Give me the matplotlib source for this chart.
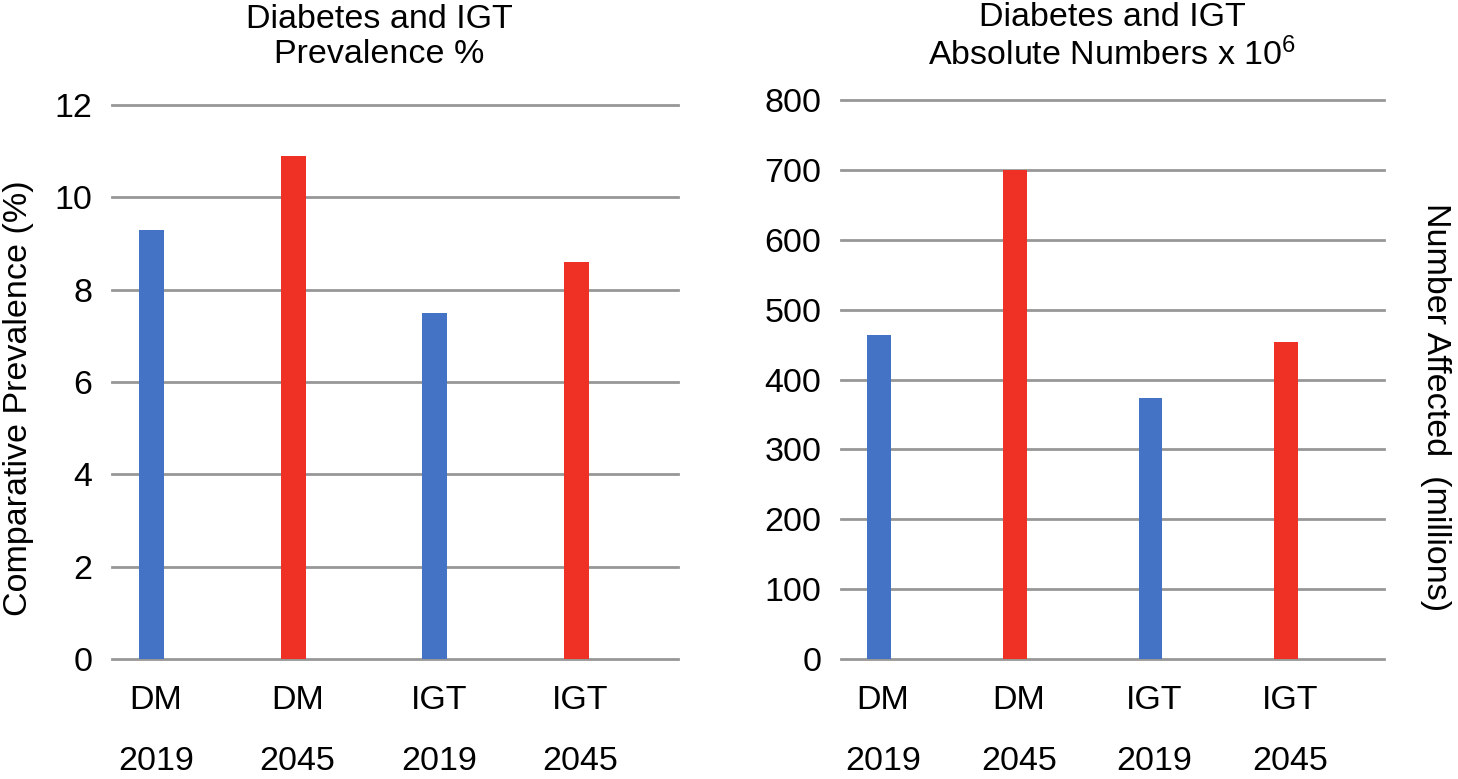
import matplotlib
matplotlib.use("Agg")
import matplotlib.pyplot as plt

plt.rcParams['font.family'] = ['Liberation Sans', 'DejaVu Sans']
plt.rcParams['mathtext.default'] = 'regular'

# -----------------------------------------------------------
# DATA
# -----------------------------------------------------------
groups = ["DM", "DM", "IGT", "IGT"]
years = ["2019", "2045", "2019", "2045"]
prevalence = [9.3, 10.9, 7.5, 8.6]
numbers = [463, 700, 374, 454]
bar_colors = ["#4472C4", "#EE3124", "#4472C4", "#EE3124"]

prev_ticks = [0, 2, 4, 6, 8, 10, 12]
num_ticks = [0, 100, 200, 300, 400, 500, 600, 700, 800]

GRID = "#979797"
FS = 24.5

fig = plt.figure(figsize=(14.58, 7.79), dpi=100)
ax1 = fig.add_axes([112 / 1458, 1 - 659 / 779, (678 - 112) / 1458, (659 - 105) / 779])
ax2 = fig.add_axes([841 / 1458, 1 - 659 / 779, (1384 - 841) / 1458, (659 - 100) / 779])


def draw_panel(ax, values, ticks):
    pos = [i - 0.22 for i in range(len(values))]
    ax.bar(pos, values, width=0.175, color=bar_colors, zorder=3)
    for t in ticks:
        ax.axhline(t, color=GRID, lw=2.0, zorder=1, clip_on=False)
    ax.set_xlim(-0.5, len(values) - 0.5)
    ax.set_ylim(ticks[0], ticks[-1])
    ax.set_yticks(ticks)
    ax.set_xticks([p + 0.03 for p in pos])
    ax.set_xticklabels([f"{g}\n{y}" for g, y in zip(groups, years)],
                       linespacing=2.25)
    ax.tick_params(axis='both', length=0, labelsize=FS)
    ax.tick_params(axis='y', pad=14)
    ax.tick_params(axis='x', pad=19)
    for s in ax.spines.values():
        s.set_visible(False)


draw_panel(ax1, prevalence, prev_ticks)
draw_panel(ax2, numbers, num_ticks)

fig.text(379 / 1458, 1 - 37 / 779, "Diabetes and IGT\nPrevalence %",
         ha='center', va='center', fontsize=FS, linespacing=1.18)
fig.text(1112 / 1458, 1 - 37 / 779, "Diabetes and IGT\nAbsolute Numbers x 10$^{6}$",
         ha='center', va='center', fontsize=FS, linespacing=1.18)

fig.text(19 / 1458, 1 - 398 / 779, "Comparative Prevalence (%)",
         rotation=90, ha='center', va='center', fontsize=FS)
fig.text(1436 / 1458, 1 - 407 / 779, "Number Affected  (millions)",
         rotation=270, ha='center', va='center', fontsize=FS)

fig.savefig("out.png", dpi=100, facecolor="white")
